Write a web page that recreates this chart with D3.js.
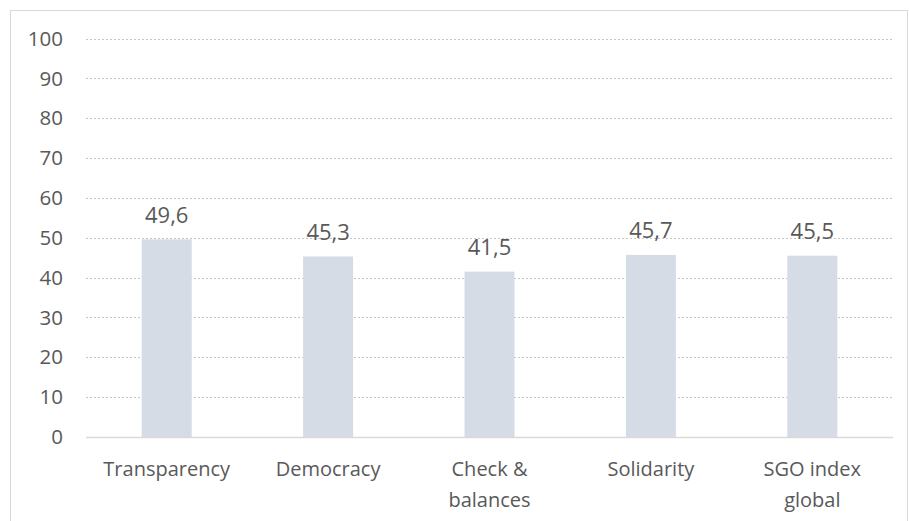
<!DOCTYPE html>
<html>
<head>
<meta charset="utf-8">
<script src="https://cdn.jsdelivr.net/npm/d3@7"></script>
<style>
    body { margin: 0; background: #fff; }
    text { font-family: "Open Sans", sans-serif; fill: #595959; }
</style>
</head>
<body>
<div id="chart"></div>
<script>
const categories = ['Transparency', 'Democracy', 'Check & balances', 'Solidarity', 'SGO index global']
const labelLines = [['Transparency'], ['Democracy'], ['Check &', 'balances'], ['Solidarity'], ['SGO index', 'global']]
const values = [49.6, 45.3, 41.5, 45.7, 45.5]
const yTicks = [0, 10, 20, 30, 40, 50, 60, 70, 80, 90, 100]

const dim = {
    width: 909,
    height: 521
}
const margin = { top: 38.5, right: 16, bottom: 84, left: 86 }

const svg = d3.select('#chart')
    .append('svg')
        .attr('width', dim.width)
        .attr('height', dim.height)

// outer frame
svg.append('rect')
    .attr('x', 10.5)
    .attr('y', 10.5)
    .attr('width', 897)
    .attr('height', 530)
    .attr('fill', 'none')
    .attr('stroke', '#d9d9d9')

const xScale = d3.scaleBand()
    .domain(categories)
    .range([margin.left, dim.width - margin.right])
    .paddingInner(0.69)
    .paddingOuter(0.345)

const yScale = d3.scaleLinear()
    .domain([0, 100])
    .range([dim.height - margin.bottom, margin.top])

// gridlines
svg.append('g')
    .selectAll('line')
    .data(yTicks.filter(d => d > 0))
    .join('line')
        .attr('x1', margin.left)
        .attr('x2', dim.width - margin.right)
        .attr('y1', d => Math.round(yScale(d)) + 0.5)
        .attr('y2', d => Math.round(yScale(d)) + 0.5)
        .attr('stroke', '#c6c6c6')
        .attr('stroke-dasharray', '2 2')

// y tick labels
svg.append('g')
    .selectAll('text')
    .data(yTicks)
    .join('text')
        .attr('x', 63)
        .attr('y', d => yScale(d))
        .attr('dy', '0.35em')
        .attr('text-anchor', 'end')
        .style('font-size', '20.5px')
        .text(d => d)

// bars
svg.append('g')
    .selectAll('rect')
    .data(values)
    .join('rect')
        .attr('x', (d, i) => xScale(categories[i]))
        .attr('y', d => yScale(d))
        .attr('width', xScale.bandwidth())
        .attr('height', d => yScale(0) - yScale(d))
        .attr('fill', '#d6dce5')

// baseline
svg.append('line')
    .attr('x1', margin.left)
    .attr('x2', dim.width - margin.right)
    .attr('y1', Math.round(yScale(0)) + 0.5)
    .attr('y2', Math.round(yScale(0)) + 0.5)
    .attr('stroke', '#d9d9d9')
    .attr('stroke-width', 1.5)

// value labels
svg.append('g')
    .selectAll('text')
    .data(values)
    .join('text')
        .attr('x', (d, i) => xScale(categories[i]) + xScale.bandwidth() / 2)
        .attr('y', d => yScale(d) - 16.5)
        .attr('text-anchor', 'middle')
        .style('font-size', '22px')
        .text(d => d.toFixed(1).replace('.', ','))

// category labels
const catLabels = svg.append('g')
    .selectAll('text')
    .data(labelLines)
    .join('text')
        .attr('x', (d, i) => xScale(categories[i]) + xScale.bandwidth() / 2)
        .attr('y', yScale(0) + 39)
        .attr('text-anchor', 'middle')
        .style('font-size', '20px')

catLabels.selectAll('tspan')
    .data(d => d)
    .join('tspan')
        .attr('x', function() { return this.parentNode.getAttribute('x') })
        .attr('dy', (d, i) => i === 0 ? 0 : 31)
        .text(d => d)
</script>
</body>
</html>
